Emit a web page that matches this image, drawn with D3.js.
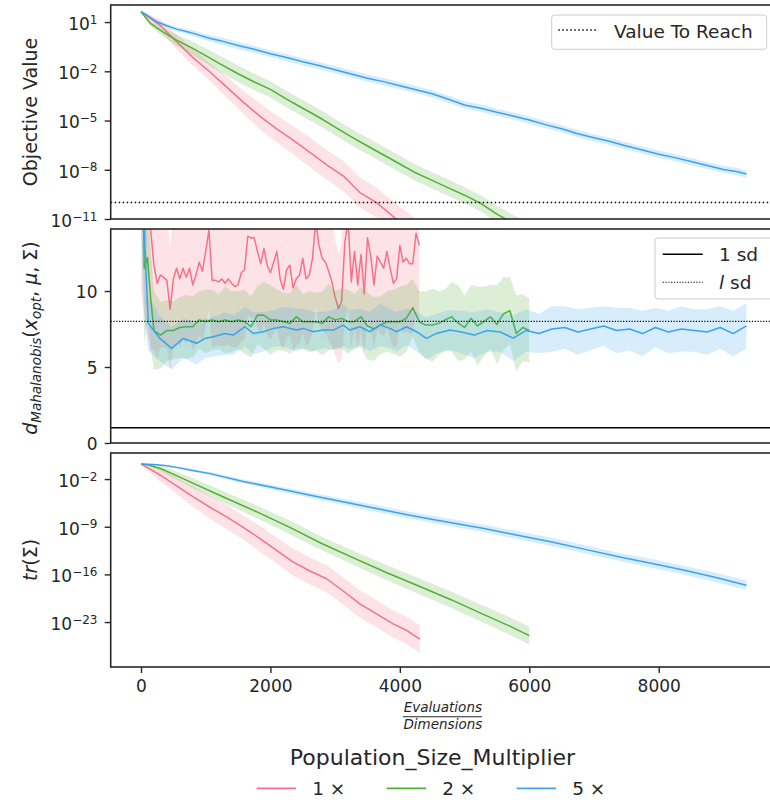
<!DOCTYPE html>
<html>
<head>
<meta charset="utf-8">
<script src="https://cdn.jsdelivr.net/npm/d3@7"></script>
<style>
  body { margin: 0; background: #fff; }
  text { font-family: "DejaVu Sans", sans-serif; fill: #262626; }
</style>
</head>
<body>
<svg id="chart" width="770" height="804"></svg>
<script>
// ---- data ----
var seriesNames = ['1 \u00d7', '2 \u00d7', '5 \u00d7'];
var seriesColors = ['#f77189', '#50b131', '#3ba3ec'];

// objective value, stored as log10 of the value, band = half width in decades
var objX1 = [0, 100, 293, 551, 800, 1066, 1320, 1580, 1840, 2096, 2350, 2610, 2870, 3124, 3382, 3640, 3949, 4150, 4300];
var objLog1 = [1.63, 1.35, 0.82, -0.2, -1.15, -2.04, -2.95, -3.88, -4.75, -5.51, -6.2, -6.94, -7.7, -8.37, -9.39, -10.0, -11.02, -11.6, -12.1];
var objBand1 = [0, 0.15, 0.35, 0.45, 0.5, 0.55, 0.65, 0.7, 0.8, 0.82, 0.85, 0.9, 0.9, 0.92, 0.92, 0.9, 0.9, 0.9, 0.9];

var objX2 = [0, 150, 300, 550, 800, 1000, 1200, 1500, 1750, 2000, 2250, 2500, 2750, 3000, 3250, 3500, 3750, 4000, 4250, 4500, 4750, 5000, 5250, 5500, 5750, 6000];
var objLog2 = [1.63, 0.9, 0.5, -0.1, -0.6, -1.05, -1.5, -2.15, -2.65, -3.1, -3.7, -4.25, -4.8, -5.4, -6.0, -6.55, -7.1, -7.65, -8.2, -8.65, -9.1, -9.55, -10.05, -10.7, -11.25, -11.75];
var objBand2 = [0, 0.15, 0.25, 0.35, 0.4, 0.45, 0.5, 0.5, 0.5, 0.5, 0.5, 0.5, 0.5, 0.5, 0.5, 0.5, 0.5, 0.5, 0.5, 0.5, 0.5, 0.5, 0.5, 0.5, 0.5, 0.5];

var objX5 = [0, 90, 240, 400, 550, 760, 1070, 1250, 1500, 1750, 2000, 2250, 2500, 2750, 3000, 3250, 3500, 3750, 4000, 4250, 4500, 4750, 5000, 5250, 5500, 5750, 6000, 6250, 6500, 6750, 7000, 7250, 7500, 7750, 8000, 8250, 8500, 8750, 9000, 9200, 9355];
var objLog5 = [1.63, 1.43, 1.02, 0.78, 0.57, 0.37, 0.0, -0.16, -0.43, -0.66, -0.93, -1.16, -1.42, -1.65, -1.9, -2.16, -2.42, -2.63, -2.88, -3.12, -3.37, -3.7, -4.05, -4.25, -4.5, -4.72, -4.97, -5.25, -5.5, -5.8, -6.05, -6.28, -6.55, -6.8, -7.05, -7.26, -7.5, -7.74, -7.98, -8.1, -8.26];
var objBand5 = [0, 0.05, 0.1, 0.12, 0.15, 0.18, 0.2, 0.22, 0.22, 0.22, 0.22, 0.22, 0.22, 0.22, 0.22, 0.22, 0.22, 0.22, 0.22, 0.22, 0.22, 0.22, 0.22, 0.22, 0.22, 0.22, 0.22, 0.22, 0.22, 0.22, 0.22, 0.22, 0.22, 0.22, 0.22, 0.22, 0.22, 0.22, 0.22, 0.22, 0.22];

var valueToReach = 1e-10;

// mahalanobis distance, band = +- sd
var mahX1 = [0, 100, 150, 200, 250, 300, 350, 400, 450, 500, 550, 600, 650, 700, 750, 800, 850, 900, 950, 1000,
  1050, 1100, 1150, 1200, 1250, 1300, 1350, 1400, 1450, 1500, 1550, 1600, 1650, 1700, 1750, 1800, 1850, 1900, 1950, 2000,
  2050, 2100, 2150, 2200, 2250, 2300, 2350, 2400, 2450, 2500, 2550, 2600, 2650, 2700, 2750, 2800, 2850, 2900, 2950, 3000,
  3050, 3100, 3150, 3200, 3250, 3300, 3350, 3400, 3450, 3500, 3550, 3600, 3650, 3700, 3750, 3800, 3850, 3900, 3950, 4000,
  4050, 4100, 4150, 4200, 4250, 4300];
var mahY1 = [40, 22, 14.0, 11.7, 10.5, 11.05, 10.9, 10.7, 8.8, 10.8,
  11.5, 10.8, 11.5, 10.9, 11.5, 10.4, 11.05, 11.9, 11.3, 12.6,
  14.0, 10.7, 10.7, 10.6, 10.8, 10.5, 10.8, 10.5, 10.3, 10.4,
  11.2, 11.4, 13.6, 13.5, 13.5, 12.6, 11.8, 12.8, 11.7, 11.2,
  11.9, 12.6, 10.8, 10.1, 11.4, 11.7, 10.2, 10.8, 11.05, 12.15,
  10.8, 11.05, 12.15, 14.6, 13.0, 12.15, 11.9, 11.3, 10.6, 9.6,
  8.85, 9.3, 13.2, 14.6, 10.6, 12.6, 10.4, 12.4, 9.8, 13.5,
  12.3, 10.4, 12.3, 11.9, 11.5, 12.6, 11.5, 10.5, 10.8, 13.0,
  11.9, 12.15, 11.8, 11.8, 13.8, 13.0];
var mahSd1 = [30, 15, 8, 5.5, 5.0, 4.8, 4.6, 4.5, 4.0, 4.6,
  4.8, 4.5, 4.7, 4.4, 4.6, 4.3, 4.5, 4.8, 4.6, 5.0,
  5.2, 4.4, 4.3, 4.2, 4.4, 4.1, 4.3, 4.2, 4.0, 4.1,
  4.5, 4.6, 5.2, 5.3, 5.2, 5.0, 4.6, 5.0, 4.6, 4.4,
  4.7, 5.0, 4.3, 4.0, 4.5, 4.6, 4.1, 4.4, 4.5, 4.9,
  4.4, 4.5, 4.9, 5.6, 5.2, 4.8, 4.7, 4.5, 4.2, 3.8,
  3.6, 3.8, 5.2, 5.6, 4.3, 5.0, 4.2, 4.9, 4.0, 5.3,
  4.9, 4.2, 4.8, 4.7, 4.5, 5.0, 4.6, 4.2, 4.4, 5.2,
  4.7, 4.8, 4.6, 4.6, 5.3, 5.1];

var mahX2 = [0, 50, 100, 150, 200, 300, 400, 500, 600, 700, 800, 900, 1000, 1100, 1200,
  1300, 1400, 1500, 1600, 1700, 1800, 1900, 2000, 2100, 2200, 2300, 2400, 2500, 2600, 2700,
  2800, 2900, 3000, 3100, 3200, 3300, 3400, 3500, 3600, 3700, 3800, 3900, 4000, 4100, 4200,
  4300, 4400, 4500, 4600, 4700, 4800, 4900, 5000, 5100, 5200, 5300, 5400, 5500, 5600, 5700,
  5800, 5900, 6000];
var mahY2 = [30, 11.5, 12.2, 9.5, 7.4, 7.1, 7.4, 7.4, 7.6, 7.65, 7.65, 8.1, 8.0, 8.1, 7.98,
  8.1, 7.98, 8.1, 7.98, 7.65, 8.42, 8.4, 8.1, 8.1, 7.98, 7.87, 8.3, 7.98, 7.98, 7.98,
  7.87, 8.3, 8.1, 8.2, 7.98, 8.0, 8.3, 7.7, 7.5, 7.76, 7.98, 7.98, 7.98, 8.2, 8.9,
  7.98, 7.76, 7.76, 7.87, 8.1, 8.3, 7.9, 7.6, 8.2, 7.7, 8.0, 8.3, 7.8, 8.5, 8.7,
  7.2, 7.6, 7.4];
var mahSd2 = [15, 5, 4, 3.2, 2.6, 2.2, 2.0, 1.9, 2.0, 2.1, 2.0, 1.9, 2.1, 2.0, 1.8,
  2.2, 2.0, 1.9, 2.1, 2.0, 1.9, 2.2, 2.3, 2.0, 1.9, 2.0, 2.1, 1.8, 2.0, 1.9,
  2.1, 2.2, 1.9, 2.0, 2.1, 1.8, 2.0, 2.2, 2.1, 1.9, 2.0, 2.1, 2.3, 2.2, 1.9,
  2.0, 2.2, 2.4, 2.1, 2.0, 2.3, 2.5, 2.1, 2.2, 2.6, 2.3, 2.1, 2.6, 2.4, 2.2,
  2.5, 2.2, 2.1];

var mahX5 = [0, 60, 113, 293, 474, 654, 860, 988, 1117, 1297, 1426, 1606, 1735, 1889, 2044, 2198, 2404, 2507,
  2661, 2816, 2970, 3125, 3228, 3382, 3537, 3691, 3845, 3948, 4103, 4257, 4412, 4566, 4772, 4950, 5150,
  5350, 5550, 5750, 5950, 6150, 6350, 6550, 6750, 6950, 7150, 7350, 7550, 7750, 7950, 8150, 8350, 8550,
  8750, 8950, 9150, 9355];
var mahY5 = [30, 13, 7.87, 6.88, 6.23, 6.88, 6.56, 6.88, 6.99, 7.21, 7.1, 7.65, 7.21, 7.32, 7.54, 7.65, 7.43, 7.54,
  7.32, 7.43, 7.43, 7.76, 7.43, 7.65, 7.32, 7.76, 7.54, 7.32, 7.65, 7.32, 6.88, 7.21, 7.43, 7.3, 7.1,
  7.4, 7.3, 6.9, 7.4, 7.2, 7.5, 7.6, 7.3, 7.5, 7.7, 7.4, 7.5, 7.2, 7.6, 7.3, 7.5, 7.4,
  7.3, 7.6, 7.2, 7.7];
var mahSd5 = [15, 5, 1.8, 1.5, 1.4, 1.3, 1.4, 1.3, 1.3, 1.4, 1.3, 1.3, 1.4, 1.3, 1.2, 1.3, 1.4, 1.3,
  1.3, 1.2, 1.3, 1.4, 1.3, 1.2, 1.3, 1.4, 1.3, 1.3, 1.2, 1.3, 1.4, 1.3, 1.3, 1.4, 1.5,
  1.4, 1.3, 1.5, 1.4, 1.3, 1.5, 1.4, 1.5, 1.4, 1.3, 1.5, 1.4, 1.5, 1.3, 1.4, 1.5, 1.4,
  1.5, 1.4, 1.5, 1.5];

var oneSd = 1;
var lSd = 8;

// trace of sigma, log10, band in decades
var trX1 = [0, 100, 293, 550, 808, 1060, 1323, 1580, 1838, 2100, 2353, 2610, 2868, 3120, 3382, 3640, 3897, 4100, 4309];
var trLog1 = [0.21, -0.3, -1.4, -3.0, -4.6, -6.1, -7.56, -9.1, -10.74, -12.5, -14.19, -15.5, -16.64, -18.4, -20.32, -21.8, -23.27, -24.2, -25.5];
var trBand1 = [0, 0.4, 0.9, 1.2, 1.5, 1.7, 1.8, 1.8, 1.9, 1.9, 2.0, 2.0, 2.0, 2.0, 2.0, 2.0, 2.0, 2.0, 2.0];

var trX2 = [0, 100, 300, 550, 800, 1300, 1800, 2300, 2800, 3300, 3800, 4300, 4800, 5300, 5700, 6000];
var trLog2 = [0.21, 0.1, -0.45, -1.5, -2.6, -4.75, -6.85, -9.1, -11.5, -13.65, -15.75, -17.75, -19.75, -21.9, -23.6, -25.0];
var trBand2 = [0, 0.1, 0.4, 0.6, 0.75, 0.85, 0.95, 1.0, 1.0, 1.05, 1.1, 1.15, 1.2, 1.25, 1.3, 1.3];

var trX5 = [0, 200, 400, 550, 800, 1070, 1580, 2100, 2600, 3100, 3600, 4150, 4600, 5300, 5800, 6350, 6900, 7400, 7900, 8400, 8900, 9355];
var trLog5 = [0.21, 0.15, -0.04, -0.28, -0.75, -1.2, -2.35, -3.35, -4.35, -5.3, -6.25, -7.3, -8.1, -9.25, -10.2, -11.25, -12.4, -13.45, -14.4, -15.4, -16.5, -17.6];
var trBand5 = [0, 0.05, 0.1, 0.15, 0.2, 0.25, 0.3, 0.35, 0.4, 0.45, 0.5, 0.5, 0.55, 0.55, 0.6, 0.6, 0.6, 0.6, 0.65, 0.65, 0.7, 0.7];

var xTicks = [0, 2000, 4000, 6000, 8000];
var objTickExp = [1, -2, -5, -8, -11];
var mahTicks = [0, 5, 10];
var trTickExp = [-2, -9, -16, -23];

// ---- layout ----
var svg = d3.select('#chart');
var xLeft = 110.7, xRight = 777;
var ink = '#262626';

var x = d3.scaleLinear().domain([-468, 9828]).range([xLeft, xRight]);

var panels = {
  obj: { top: 5, bottom: 219 },
  mah: { top: 229, bottom: 443 },
  tr: { top: 453, bottom: 667 }
};

var yObj = d3.scaleLog().domain([1e-11, Math.pow(10, 2.04)]).range([panels.obj.bottom, panels.obj.top]);
var yMah = d3.scaleLinear().domain([0, 14.08]).range([panels.mah.bottom, panels.mah.top]);
var yTr = d3.scaleLog().domain([Math.pow(10, -29.6), Math.pow(10, 1.83)]).range([panels.tr.bottom, panels.tr.top]);

var defs = svg.append('defs');
Object.keys(panels).forEach(function (k) {
  var p = panels[k];
  defs.append('clipPath').attr('id', 'clip-' + k)
    .append('rect')
    .attr('x', xLeft).attr('y', p.top)
    .attr('width', xRight - xLeft).attr('height', p.bottom - p.top);
});

function panelGroup(k) {
  return svg.append('g').attr('clip-path', 'url(#clip-' + k + ')');
}

// log panels: values given as log10, band in decades
function drawLogSeries(g, xs, logs, band, color, y) {
  var pts = xs.map(function (d, i) { return [d, logs[i], band[i]]; });
  g.append('path').datum(pts)
    .attr('fill', color).attr('fill-opacity', 0.2).attr('stroke', 'none')
    .attr('d', d3.area()
      .x(function (d) { return x(d[0]); })
      .y0(function (d) { return y(Math.pow(10, d[1] - d[2])); })
      .y1(function (d) { return y(Math.pow(10, d[1] + d[2])); }));
  g.append('path').datum(pts)
    .attr('fill', 'none').attr('stroke', color).attr('stroke-width', 1.5)
    .attr('stroke-linejoin', 'round')
    .attr('d', d3.line()
      .x(function (d) { return x(d[0]); })
      .y(function (d) { return y(Math.pow(10, d[1])); }));
}

function drawSdSeries(g, xs, vals, sd, color, y) {
  var pts = xs.map(function (d, i) { return [d, vals[i], sd[i]]; });
  g.append('path').datum(pts)
    .attr('fill', color).attr('fill-opacity', 0.2).attr('stroke', 'none')
    .attr('d', d3.area()
      .x(function (d) { return x(d[0]); })
      .y0(function (d) { return y(d[1] - d[2]); })
      .y1(function (d) { return y(d[1] + d[2]); }));
  g.append('path').datum(pts)
    .attr('fill', 'none').attr('stroke', color).attr('stroke-width', 1.5)
    .attr('stroke-linejoin', 'round')
    .attr('d', d3.line()
      .x(function (d) { return x(d[0]); })
      .y(function (d) { return y(d[1]); }));
}

function hLine(g, yv, dash, width) {
  g.append('line')
    .attr('x1', xLeft).attr('x2', xRight)
    .attr('y1', yv).attr('y2', yv)
    .attr('stroke', '#000').attr('stroke-width', width)
    .attr('stroke-dasharray', dash);
}

// ---- panel 1: objective value ----
var g1 = panelGroup('obj');
drawLogSeries(g1, objX1, objLog1, objBand1, seriesColors[0], yObj);
drawLogSeries(g1, objX2, objLog2, objBand2, seriesColors[1], yObj);
drawLogSeries(g1, objX5, objLog5, objBand5, seriesColors[2], yObj);
hLine(g1, yObj(valueToReach), '1.5,2.5', 1.5);

// ---- panel 2: mahalanobis ----
var g2 = panelGroup('mah');
drawSdSeries(g2, mahX1, mahY1, mahSd1, seriesColors[0], yMah);
drawSdSeries(g2, mahX2, mahY2, mahSd2, seriesColors[1], yMah);
drawSdSeries(g2, mahX5, mahY5, mahSd5, seriesColors[2], yMah);
hLine(g2, yMah(oneSd), null, 1.5);
hLine(g2, yMah(lSd), '1.2,1.6', 1.1);

// ---- panel 3: trace ----
var g3 = panelGroup('tr');
drawLogSeries(g3, trX1, trLog1, trBand1, seriesColors[0], yTr);
drawLogSeries(g3, trX2, trLog2, trBand2, seriesColors[1], yTr);
drawLogSeries(g3, trX5, trLog5, trBand5, seriesColors[2], yTr);

// ---- frames ----
Object.keys(panels).forEach(function (k) {
  var p = panels[k];
  svg.append('rect')
    .attr('x', xLeft).attr('y', p.top)
    .attr('width', xRight - xLeft).attr('height', p.bottom - p.top)
    .attr('fill', 'none').attr('stroke', ink).attr('stroke-width', 1.6);
});

// ---- axes ----
function styleAxis(ax) {
  ax.select('.domain').remove();
  ax.selectAll('.tick line').attr('stroke', ink).attr('stroke-width', 1.4);
  ax.attr('font-family', null).attr('font-size', null);
}

function powerAxis(scale, exps) {
  var ax = svg.append('g').attr('transform', 'translate(' + xLeft + ',0)')
    .call(d3.axisLeft(scale)
      .tickValues(exps.map(function (e) { return Math.pow(10, e); }))
      .tickSize(6).tickSizeOuter(0).tickPadding(7).tickFormat(''));
  styleAxis(ax);
  ax.selectAll('.tick').each(function (d, i) {
    var t = d3.select(this).select('text').text(null)
      .attr('x', -13.2).attr('dy', 7.3).attr('font-size', 17).attr('fill', ink);
    t.append('tspan').text('10');
    var e = exps[i];
    t.append('tspan').attr('dy', -6.3).attr('font-size', 12)
      .text(e < 0 ? '\u2212' + (-e) : String(e));
  });
}

powerAxis(yObj, objTickExp);
powerAxis(yTr, trTickExp);

var axMah = svg.append('g').attr('transform', 'translate(' + xLeft + ',0)')
  .call(d3.axisLeft(yMah).tickValues(mahTicks).tickSize(6).tickSizeOuter(0).tickPadding(7)
    .tickFormat(d3.format('d')));
styleAxis(axMah);
axMah.selectAll('.tick text').attr('x', -13.2).attr('dy', 6.5).attr('font-size', 17).attr('fill', ink);

var axX = svg.append('g').attr('transform', 'translate(0,' + panels.tr.bottom + ')')
  .call(d3.axisBottom(x).tickValues(xTicks).tickSize(6).tickSizeOuter(0).tickPadding(7.4)
    .tickFormat(d3.format('d')));
styleAxis(axX);
axX.selectAll('.tick text').attr('font-size', 17).attr('fill', ink);

// ---- axis labels ----
function yLabel(cy) {
  return svg.append('text')
    .attr('transform', 'translate(37,' + cy + ') rotate(-90)')
    .attr('text-anchor', 'middle').attr('font-size', 19);
}
yLabel((panels.obj.top + panels.obj.bottom) / 2).text('Objective Value');

var ml = yLabel((panels.mah.top + panels.mah.bottom) / 2 + 2);
ml.append('tspan').attr('font-style', 'italic').text('d');
ml.append('tspan').attr('font-style', 'italic').attr('font-size', 13.5).attr('dy', 4).text('Mahalanobis');
ml.append('tspan').attr('dy', -4).text('(');
ml.append('tspan').attr('font-style', 'italic').text('x');
ml.append('tspan').attr('font-style', 'italic').attr('font-size', 13.5).attr('dy', 4).text('opt');
ml.append('tspan').attr('dy', -4).text(', ');
ml.append('tspan').attr('font-style', 'italic').text('\u03bc');
ml.append('tspan').text(', \u03a3)');

var tl = yLabel((panels.tr.top + panels.tr.bottom) / 2);
tl.append('tspan').attr('font-style', 'italic').text('tr');
tl.append('tspan').text('(\u03a3)');

// x label as a fraction
var xMid = (xLeft + xRight) / 2;
svg.append('text').attr('x', xMid - 1).attr('y', 711.5).attr('text-anchor', 'middle')
  .attr('font-size', 13.5).attr('font-style', 'italic').text('Evaluations');
svg.append('line').attr('x1', xMid - 41).attr('x2', xMid + 38).attr('y1', 716.7).attr('y2', 716.7)
  .attr('stroke', ink).attr('stroke-width', 1.1);
svg.append('text').attr('x', xMid - 1).attr('y', 728.5).attr('text-anchor', 'middle')
  .attr('font-size', 13.5).attr('font-style', 'italic').text('Dimensions');

// ---- legends ----
function legendBox(x0, y0, w, h) {
  svg.append('rect').attr('x', x0).attr('y', y0).attr('width', w).attr('height', h)
    .attr('rx', 3).attr('fill', '#fff').attr('fill-opacity', 0.8)
    .attr('stroke', '#cccccc').attr('stroke-width', 1);
}

legendBox(551.7, 15, 215, 34.3);
svg.append('line').attr('x1', 558.3).attr('x2', 596.7).attr('y1', 30).attr('y2', 30)
  .attr('stroke', '#000').attr('stroke-width', 1.5).attr('stroke-dasharray', '1.5,2.5');
svg.append('text').attr('x', 614).attr('y', 38.3).attr('font-size', 18.5).text('Value To Reach');

legendBox(655, 238, 118, 61);
svg.append('line').attr('x1', 662.7).attr('x2', 702.7).attr('y1', 254.3).attr('y2', 254.3)
  .attr('stroke', '#000').attr('stroke-width', 1.5);
svg.append('text').attr('x', 719).attr('y', 261).attr('font-size', 18.5).text('1 sd');
svg.append('line').attr('x1', 662.7).attr('x2', 702.7).attr('y1', 282.3).attr('y2', 282.3)
  .attr('stroke', '#000').attr('stroke-width', 1.1).attr('stroke-dasharray', '1.2,1.6');
var lsd = svg.append('text').attr('x', 719).attr('y', 289.3).attr('font-size', 18.5);
lsd.append('tspan').attr('font-style', 'italic').text('l');
lsd.append('tspan').text(' sd');

// bottom legend
svg.append('text').attr('x', 432.5).attr('y', 765).attr('text-anchor', 'middle')
  .attr('font-size', 22).text('Population_Size_Multiplier');
var legX = [256.7, 386.7, 516.7];
seriesNames.forEach(function (name, i) {
  svg.append('line').attr('x1', legX[i]).attr('x2', legX[i] + 39.3)
    .attr('y1', 788.3).attr('y2', 788.3)
    .attr('stroke', seriesColors[i]).attr('stroke-width', 1.8);
  svg.append('text').attr('x', legX[i] + 55.5).attr('y', 795).attr('font-size', 18.5).text(name);
});
</script>
</body>
</html>
